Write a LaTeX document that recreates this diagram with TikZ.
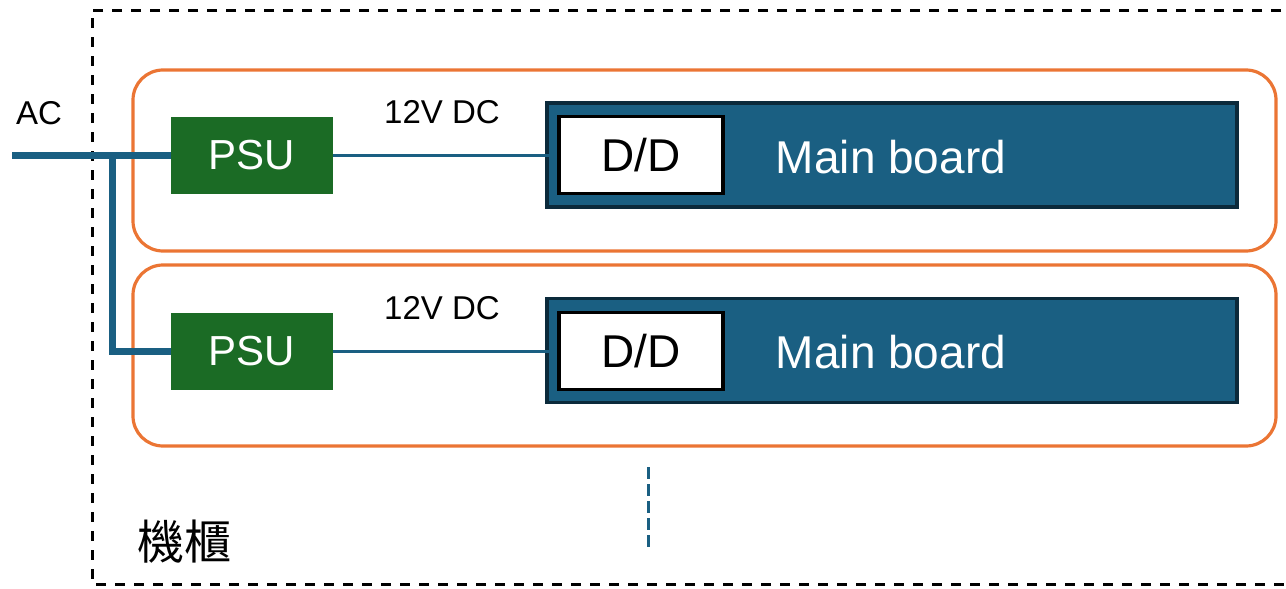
\documentclass[tikz,border=0pt]{standalone}
\usepackage{fontspec}
\setmainfont{Liberation Sans}
\newfontfamily\cjk{Noto Sans CJK TC}
\begin{document}
\begin{tikzpicture}[x=1pt,y=-1pt,
  cab/.style={draw=black,line width=3pt,dash pattern=on 10pt off 9pt},
  unit/.style={draw=orangeC,line width=3.2pt,rounded corners=30pt},
  psu/.style={fill=greenC,draw=none,minimum width=162pt,minimum height=77pt,text=white,font=\fontsize{42}{42}\selectfont},
  board/.style={fill=blueC,draw=darkC,line width=3.5pt,minimum width=690pt,minimum height=104pt},
  dd/.style={fill=white,draw=black,line width=3.5pt,minimum width=164pt,minimum height=77pt,font=\fontsize{46}{46}\selectfont},
  lbl/.style={font=\fontsize{33}{33}\selectfont},
  acline/.style={draw=blueC,line width=7pt},
  dcline/.style={draw=blueC,line width=3pt}]
\definecolor{orangeC}{HTML}{EB7534}
\definecolor{greenC}{HTML}{1B6B25}
\definecolor{blueC}{HTML}{1A5F82}
\definecolor{darkC}{HTML}{0B2A3B}
\useasboundingbox (0,0) rectangle (1286,589);
% cabinet
\draw[cab] (1300,10) -- (92,10) -- (92,584) -- (1300,584);
\node[font=\cjk\fontsize{47}{47}\selectfont,anchor=west] (cab) at (134,542) {機櫃};
% units
\draw[unit] (133,70) rectangle (1276,251);
\draw[unit] (133,265) rectangle (1276,446);
% boards
\node[board] (mb1) at (892,155) {};
\node[board] (mb2) at (892,350.5) {};
\node[text=white,font=\fontsize{46}{46}\selectfont] (mt1) at (891,157) {Main board};
\node[text=white,font=\fontsize{46}{46}\selectfont] (mt2) at (891,352) {Main board};
\node[dd] (dd1) at (641,155) {D/D};
\node[dd] (dd2) at (641,351) {D/D};
% PSUs
\node[psu] (psu1) at (252,155) {PSU};
\node[psu] (psu2) at (252,351) {PSU};
% AC
\node[lbl] (ac) at (39,113) {AC};
\coordinate (acin) at (12,155);
\coordinate (br) at (112,155);
\draw[acline] (acin) -- (psu1.west);
\draw[acline] (br) |- (psu2.west);
% DC
\draw[dcline] (psu1.east) -- (dd1.west);
\draw[dcline] (psu2.east) -- (dd2.west);
\node[lbl] (dc1) at (442,112) {12V DC};
\node[lbl] (dc2) at (442,308) {12V DC};
% ellipsis
\coordinate (v1) at (648,467);
\coordinate (v2) at (648,548);
\draw[blueC,line width=3pt,dash pattern=on 12pt off 5pt] (v1) -- (v2);
\end{tikzpicture}
\end{document}
